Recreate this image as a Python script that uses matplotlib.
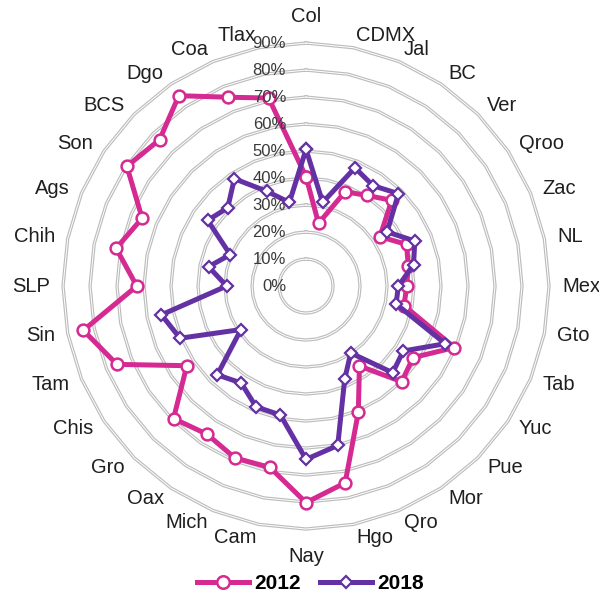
import numpy as np
import matplotlib
matplotlib.use('Agg')
import matplotlib.pyplot as plt
from matplotlib.lines import Line2D
from matplotlib.transforms import offset_copy

plt.rcParams['font.family'] = ['Liberation Sans', 'DejaVu Sans']

# Estados, en sentido horario desde arriba
estados = ['Col', 'CDMX', 'Jal', 'BC', 'Ver', 'Qroo', 'Zac', 'NL', 'Mex', 'Gto',
           'Tab', 'Yuc', 'Pue', 'Mor', 'Qro', 'Hgo', 'Nay', 'Cam', 'Mich', 'Oax',
           'Gro', 'Chis', 'Tam', 'Sin', 'SLP', 'Chih', 'Ags', 'Son', 'BCS', 'Dgo',
           'Coa', 'Tlax']

# Porcentajes por estado
v2012 = [40.5, 23.7, 37.8, 40.4, 44.9, 32.9, 40.3, 38.6, 37.3, 37.0,
         59.5, 47.7, 50.1, 35.6, 50.6, 74.3, 80.2, 68.5, 68.9, 66.0,
         69.4, 53.1, 75.8, 84.1, 62.7, 71.7, 65.7, 79.8, 76.7, 84.8,
         75.7, 71.0]
v2018 = [50.6, 31.6, 47.4, 44.7, 48.4, 36.1, 43.6, 40.6, 34.2, 34.0,
         55.8, 43.3, 45.4, 29.8, 37.4, 60.2, 64.2, 48.7, 48.4, 43.2,
         46.5, 29.0, 50.5, 54.6, 29.4, 36.8, 30.4, 43.8, 41.0, 47.8,
         38.0, 31.6]

niveles = [0, 10, 20, 30, 40, 50, 60, 70, 80, 90]

color_2012 = '#D42A92'
color_2018 = '#6331A3'

fig = plt.figure(figsize=(5.99, 5.98), dpi=100)
ax = fig.add_axes([0.1052, 0.1153, 0.8114, 0.8127], projection='polar')
ax.set_theta_zero_location('N')
ax.set_theta_direction(-1)
ax.set_ylim(0, 90)
ax.grid(False)
ax.set_xticks([])
ax.set_yticks([])
ax.spines['polar'].set_visible(False)
ax.patch.set_visible(False)

n = len(estados)
ang = np.linspace(0, 2 * np.pi, n, endpoint=False)
ang_c = np.append(ang, ang[0])

# anillos de la cuadrícula (polígonos de 32 lados, línea doble gris)
for nv in niveles[1:]:
    r = np.full(n + 1, nv)
    ax.plot(ang_c, r, color='#BDBDBD', lw=2.4, zorder=1, clip_on=False)
    ax.plot(ang_c, r, color='white', lw=0.7, zorder=1.1, clip_on=False)

# series
ax.plot(ang_c, v2012 + v2012[:1], color=color_2012, lw=3.6, zorder=3,
        marker='o', ms=8.5, mfc='white', mec=color_2012, mew=1.8, clip_on=False)
ax.plot(ang_c, v2018 + v2018[:1], color=color_2018, lw=3.6, zorder=4,
        marker='D', ms=6, mfc='white', mec=color_2018, mew=1.6, clip_on=False)

# etiquetas de estados
for a, nombre in zip(ang, estados):
    s, c = np.sin(a), np.cos(a)
    if s > 0.05:
        ha = 'left'
    elif s < -0.05:
        ha = 'right'
    else:
        ha = 'center'
    va = 'center'
    r_lab = 94.8
    if c > 0.99:
        va, r_lab = 'bottom', 96.5
    elif c < -0.99:
        va, r_lab = 'top', 96.5
    ax.text(a, r_lab, nombre, ha=ha, va=va, fontsize=14.5, color='#1F1F1F')

# etiquetas del eje radial
tr = offset_copy(ax.transData, fig=fig, x=-20, y=0, units='dots')
for nv in niveles:
    ax.text(0, nv, f'{nv}%', ha='right', va='center', fontsize=12,
            color='#3A3A3A', transform=tr, zorder=5)

handles = [
    Line2D([], [], color=color_2012, lw=3.6, marker='o', ms=9, mfc='white',
           mec=color_2012, mew=1.8),
    Line2D([], [], color=color_2018, lw=3.6, marker='D', ms=6.5, mfc='white',
           mec=color_2018, mew=1.6),
]
fig.legend(handles, ['2012', '2018'], loc='center', bbox_to_anchor=(0.518, 0.024),
           ncol=2, frameon=False, handlelength=2.5, handletextpad=0.25,
           columnspacing=0.9, prop={'weight': 'bold', 'size': 15})

plt.savefig('out.png', dpi=100)
plt.close()
